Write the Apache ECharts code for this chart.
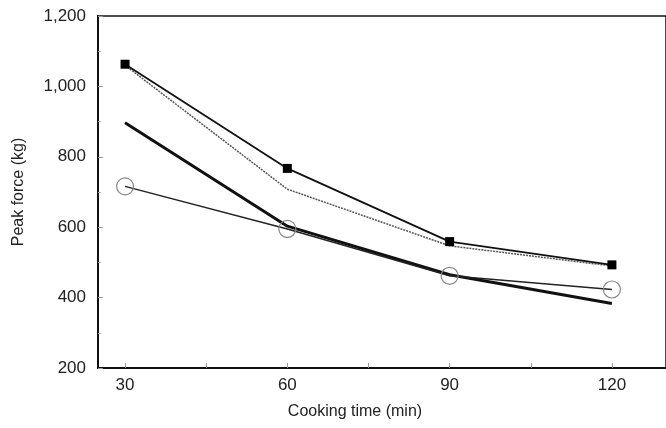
<!DOCTYPE html>
<html>
<head>
<meta charset="utf-8">
<script src="https://cdn.jsdelivr.net/npm/echarts@6/dist/echarts.min.js"></script>
<style>
  html, body { margin: 0; padding: 0; background: #fff; }
  #chart { width: 666px; height: 428px; }
</style>
</head>
<body>
<div id="chart"></div>
<script>
// data
var times = [30, 60, 90, 120];
var squareLine = [1063, 767, 559, 493];   // thin solid, black squares
var dottedLine = [1060, 708, 547, 490];   // dotted, no markers
var thickLine = [897, 603, 465, 383];     // thick solid, no markers
var circleLine = [716, 595, 462, 423];    // thin solid, open circles
var xLabels = [30, 60, 90, 120];
var xTicks = [30, 45, 60, 75, 90, 105, 120];

function pairs(vals) {
  return times.map(function (t, i) { return [t, vals[i]]; });
}

var chart = echarts.init(document.getElementById('chart'));

var font = 'Liberation Sans, Arial, sans-serif';

var option = {
  animation: false,
  grid: {
    left: 98, top: 16, bottom: 60, right: -7,
    show: true,
    borderColor: '#111',
    borderWidth: 1.5
  },
  xAxis: {
    type: 'value',
    min: 25,
    max: 130,
    name: 'Cooking time (min)',
    nameLocation: 'middle',
    nameGap: 36,
    nameTextStyle: { fontFamily: font, fontSize: 16, color: '#222', padding: [0, 54, 0, 0] },
    axisLine: { show: true, onZero: false, lineStyle: { color: '#111', width: 2 } },
    axisTick: { show: true, inside: true, length: 5, customValues: xTicks, lineStyle: { color: '#999' } },
    axisLabel: { customValues: xLabels, fontFamily: font, fontSize: 17, color: '#222', margin: 9 },
    splitLine: { show: false }
  },
  yAxis: {
    type: 'value',
    min: 200,
    max: 1200,
    interval: 200,
    name: 'Peak force (kg)',
    nameLocation: 'middle',
    nameGap: 71,
    nameTextStyle: { fontFamily: font, fontSize: 16, color: '#222' },
    axisLine: { show: true, onZero: false, lineStyle: { color: '#111', width: 2 } },
    axisTick: { show: true, inside: true, length: 5, lineStyle: { color: '#999' } },
    minorTick: { show: true, splitNumber: 2, length: 3, lineStyle: { color: '#aaa' } },
    axisLabel: {
      fontFamily: font, fontSize: 17, color: '#222', margin: 12,
      formatter: function (v) { return v.toLocaleString('en-US'); }
    },
    splitLine: { show: false }
  },
  series: [
    {
      type: 'line',
      data: pairs(dottedLine),
      symbol: 'none',
      lineStyle: { color: '#555', width: 1.5, type: [2, 1] },
      z: 2
    },
    {
      type: 'line',
      data: pairs(thickLine),
      symbol: 'none',
      lineStyle: { color: '#111', width: 3 },
      z: 2
    },
    {
      type: 'line',
      data: pairs(circleLine),
      symbol: 'circle',
      symbolSize: 17,
      lineStyle: { color: '#222', width: 1.5 },
      itemStyle: { color: 'rgba(0,0,0,0)', borderColor: '#888', borderWidth: 1.2 },
      z: 3
    },
    {
      type: 'line',
      data: pairs(squareLine),
      symbol: 'rect',
      symbolSize: 9,
      lineStyle: { color: '#111', width: 1.8 },
      itemStyle: { color: '#000' },
      z: 4
    }
  ]
};

chart.setOption(option);
</script>
</body>
</html>
